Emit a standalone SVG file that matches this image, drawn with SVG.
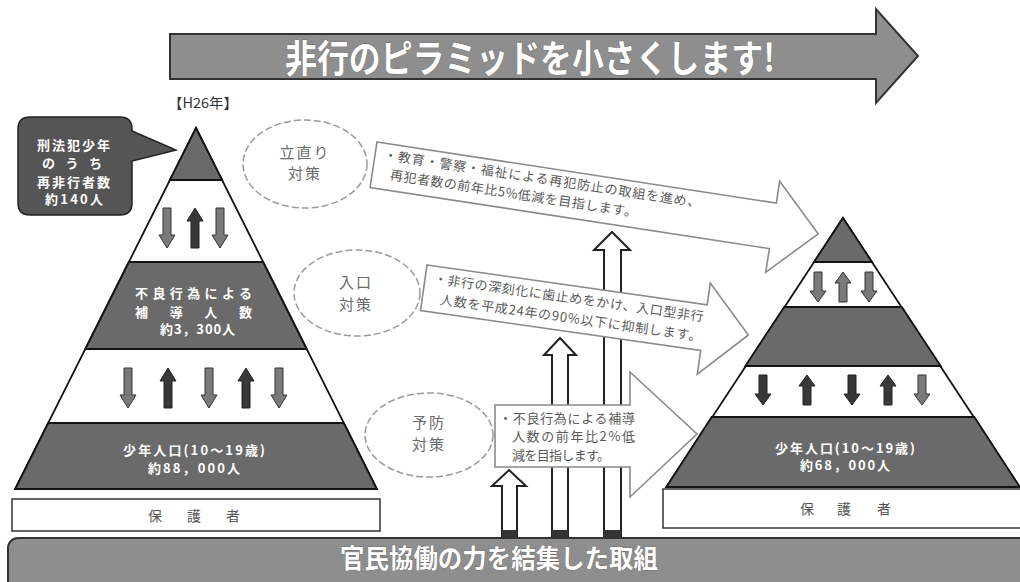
<svg xmlns="http://www.w3.org/2000/svg" xmlns:xlink="http://www.w3.org/1999/xlink" width="1020" height="582" viewBox="0 0 1020 582">
<style>
text{font-family:"Noto Sans CJK JP","Noto Sans",sans-serif}
.banner{fill:#8e8e8e;stroke:#333;stroke-width:2}
.btxt{fill:#fff;stroke:#555;stroke-width:0.6;paint-order:stroke;font-weight:bold}
.pyr{fill:#fff;stroke:#111;stroke-width:1.8}
.dark{fill:#6a6a6a;stroke:#111;stroke-width:1.8}
.wt{fill:#fff;font-weight:bold;font-size:13px}
.box{fill:#fff;stroke:#333;stroke-width:1.5}
.hog{fill:#555;font-size:14px;text-anchor:middle}
.ell{fill:#fff;stroke:#9a9a9a;stroke-width:1.5;stroke-dasharray:7 3}
.etxt{fill:#6a6a6a;font-size:15px;text-anchor:middle;letter-spacing:2px}
.slant{fill:#fff;stroke:#8a8a8a;stroke-width:1.6}
.stxt{fill:#5a5a5a;font-size:13px}
.varr{fill:#fff;stroke:#222;stroke-width:2}
.foot{fill:#333}
.ag{fill:#7a7a7a;stroke:#333;stroke-width:1}
.ad{fill:#383838;stroke:#222;stroke-width:1}
</style>
<defs>
<path id="d40" d="M-4,0 H4 V27 H8 L0,40 L-8,27 H-4 Z"/>
<path id="u40" d="M0,0 L8,13 H4 V40 H-4 V13 H-8 Z"/>
<path id="d30" d="M-4,0 H4 V19 H8 L0,30 L-8,19 H-4 Z"/>
<path id="u30" d="M0,0 L8,11 H4 V30 H-4 V11 H-8 Z"/>
</defs>

<g id="title-arrow">
<path class="banner" d="M170,34 H876 V9 L918,56 L876,103 V79 H170 Z"/>
<text class="btxt" x="285" y="72" font-size="38" textLength="490" lengthAdjust="spacingAndGlyphs">非行のピラミッドを小さくします!</text>
</g>

<g id="year-label">
<text x="168" y="108" font-size="14" fill="#333" textLength="70" lengthAdjust="spacingAndGlyphs">【H26年】</text>
</g>

<g id="left-pyramid">
<polygon class="pyr" points="196,128 376.9,489 15.1,489"/>
<polygon class="dark" points="196,128 222.1,180 169.9,180"/>
<polygon class="dark" points="128.9,262 263.1,262 306.7,349 85.3,349"/>
<polygon class="dark" points="48.2,423 343.8,423 376.9,489 15.1,489"/>
<use href="#d40" class="ag" x="167" y="208"/>
<use href="#u40" class="ad" x="195" y="208"/>
<use href="#d40" class="ag" x="220" y="208"/>
<use href="#d40" class="ag" x="128" y="368"/>
<use href="#u40" class="ad" x="168" y="368"/>
<use href="#d40" class="ag" x="209" y="368"/>
<use href="#u40" class="ad" x="246" y="368"/>
<use href="#d40" class="ag" x="279" y="368"/>
<text class="wt" x="135" y="298" textLength="117">不良行為による</text>
<text class="wt" x="135" y="317" textLength="117">補 導 人 数</text>
<text class="wt" x="160" y="334" textLength="75">約3，300人</text>
<text class="wt" x="123" y="455" textLength="142">少年人口(10～19歳)</text>
<text class="wt" x="148" y="473" textLength="92">約88，000人</text>
</g>

<g id="left-guardian">
<rect class="box" x="12" y="499" width="368" height="32"/>
<text class="hog" x="155 194 233" y="521">保護者</text>
</g>

<g id="callout">
<path d="M30,117 H120 Q132,117 132,129 V131 L176,150 L132,161 V203 Q132,215 120,215 H30 Q18,215 18,203 V129 Q18,117 30,117 Z" fill="#555" stroke="#222" stroke-width="1.5"/>
<text class="wt" x="37" y="150" textLength="73">刑法犯少年</text>
<text class="wt" x="42" y="168" textLength="60">の う ち</text>
<text class="wt" x="37" y="187" textLength="73">再非行者数</text>
<text class="wt" x="45" y="204" textLength="58">約140人</text>
</g>

<g id="right-pyramid">
<polygon class="pyr" points="843,218 1019.7,487 666.3,487"/>
<polygon class="dark" points="843,218 872,262 814,262"/>
<polygon class="dark" points="784.3,307 901.7,307 940.7,366 745.3,366"/>
<polygon class="dark" points="711.7,417 974.3,417 1019.7,487 666.3,487"/>
<use href="#d30" class="ag" x="818" y="272"/>
<use href="#u30" class="ag" x="843" y="272"/>
<use href="#d30" class="ag" x="869" y="272"/>
<use href="#d30" class="ad" x="763" y="375"/>
<use href="#u30" class="ad" x="807" y="375"/>
<use href="#d30" class="ad" x="852" y="375"/>
<use href="#u30" class="ad" x="888" y="375"/>
<use href="#d30" class="ag" x="922" y="375"/>
<text class="wt" x="775" y="453" textLength="140">少年人口(10～19歳)</text>
<text class="wt" x="800" y="470" textLength="90">約68，000人</text>
</g>

<g id="right-guardian">
<rect class="box" x="663" y="489" width="370" height="39"/>
<text class="hog" x="807 844 884" y="514">保護者</text>
</g>

<g id="connectors">
<path class="varr" d="M612,232 L630,250 H621 V538 H604 V250 H594 Z"/>
<rect class="foot" x="604" y="530" width="17" height="8"/>
<path class="varr" d="M560,338 L576,355 H568 V538 H552 V355 H544 Z"/>
<rect class="foot" x="552" y="530" width="16" height="8"/>
<path class="varr" d="M509,470 L526,486 H517 V538 H502 V486 H492 Z"/>
<rect class="foot" x="502" y="530" width="15" height="8"/>
</g>

<g id="tachinaori">
<ellipse class="ell" cx="305" cy="164" rx="62" ry="44"/>
<text class="etxt" x="305" y="158">立直り</text>
<text class="etxt" x="305" y="179">対策</text>
</g>
<g id="tachinaori-arrow" transform="translate(377,142) rotate(8.7)">
<polygon class="slant" points="0,0 404,0 404,-22 450,24 404,70 404,46 0,46"/>
<text class="stxt" x="9" y="16" textLength="320">・教育・警察・福祉による再犯防止の取組を進め、</text>
<text class="stxt" x="18" y="35" textLength="250">再犯者数の前年比5%低減を目指します。</text>
</g>

<g id="iriguchi">
<ellipse class="ell" cx="357" cy="293" rx="63" ry="43"/>
<text class="etxt" x="356" y="288">入口</text>
<text class="etxt" x="356" y="310">対策</text>
</g>
<g id="iriguchi-arrow" transform="translate(427,265) rotate(8.1)">
<polygon class="slant" points="0,0 283,0 283,-22 328,24 283,70 283,46 0,46"/>
<text class="stxt" x="9" y="17" textLength="272">・非行の深刻化に歯止めをかけ、入口型非行</text>
<text class="stxt" x="18" y="37" textLength="264">人数を平成24年の90%以下に抑制します。</text>
</g>

<g id="yobou">
<ellipse class="ell" cx="429" cy="435" rx="64" ry="42"/>
<text class="etxt" x="429" y="428">予防</text>
<text class="etxt" x="429" y="450">対策</text>
</g>
<g id="yobou-arrow">
<polygon class="slant" points="495,405 630,405 630,372 697,434 630,497 630,467 495,467"/>
<text class="stxt" x="499" y="423" fill="#444" textLength="136">・不良行為による補導</text>
<text class="stxt" x="512" y="441" fill="#444" textLength="123">人数の前年比2%低</text>
<text class="stxt" x="512" y="460" fill="#444" textLength="98">減を目指します。</text>
</g>

<g id="bottom-banner">
<rect class="banner" x="8" y="538" width="1030" height="60" rx="10"/>
<text class="btxt" x="340" y="568" font-size="26" textLength="318" lengthAdjust="spacingAndGlyphs">官民協働の力を結集した取組</text>
</g>
</svg>
